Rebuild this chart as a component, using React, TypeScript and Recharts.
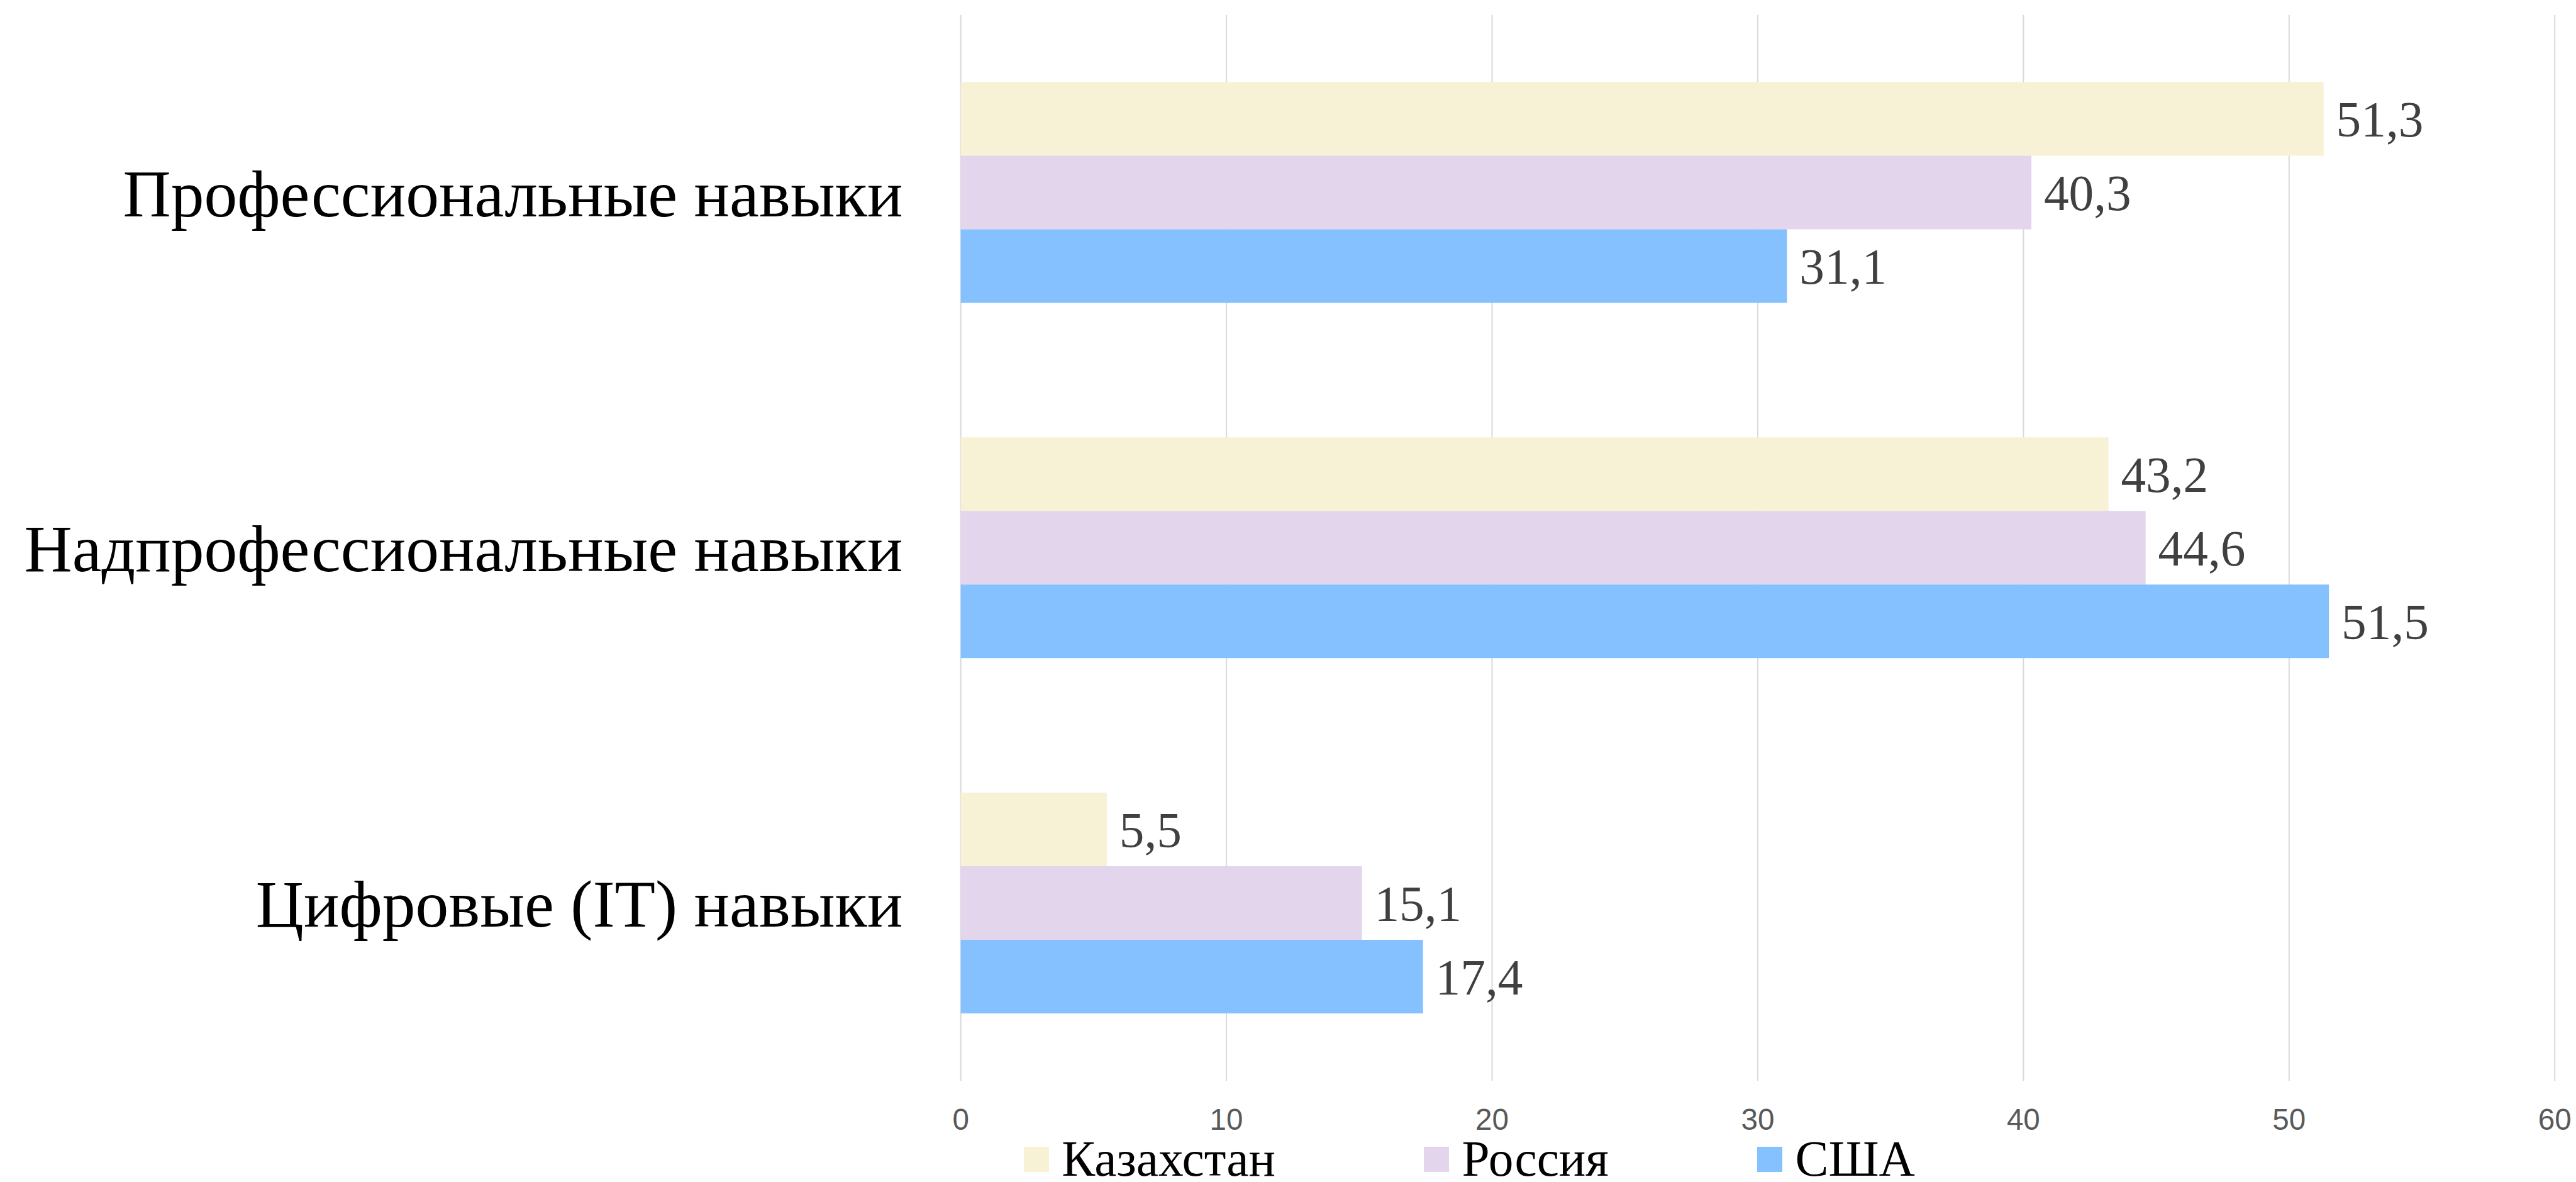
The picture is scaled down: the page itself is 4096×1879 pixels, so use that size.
import { Bar, BarChart, CartesianGrid, LabelList, Legend, XAxis, YAxis } from "recharts";

const S = 0.992;
const W = 4096;
const H = 1879;

const categories = ["Профессиональные навыки", "Надпрофессиональные навыки", "Цифровые (IT) навыки"];
const kazakhstan = [51.3, 43.2, 5.5];
const russia = [40.3, 44.6, 15.1];
const usa = [31.1, 51.5, 17.4];
const xTicks = [0, 10, 20, 30, 40, 50, 60];

const seriesNames = ["Казахстан", "Россия", "США"];
const seriesColors = ["#F7F1D5", "#E2D5EC", "#85C1FE"];

const data = categories.map((name, i) => ({
  name,
  kz: kazakhstan[i],
  ru: russia[i],
  us: usa[i],
}));

const SERIF = '"Liberation Serif", "Times New Roman", serif';
const SANS = '"Liberation Sans", Arial, sans-serif';

const fmt = (v: any) => Number(v).toFixed(1).replace(".", ",");

function LegendContent({ payload }: any) {
  return (
    <div style={{ display: "flex", alignItems: "center", height: 60 * S }}>
      {(payload || []).map((p: any, i: number) => (
        <div key={p.value} style={{ display: "flex", alignItems: "center", marginRight: i < 2 ? 238 * S : 0 }}>
          <span style={{ display: "inline-block", width: 40 * S, height: 40 * S, background: p.color, marginRight: 21 * S }} />
          <span style={{ fontFamily: SERIF, fontSize: 80 * S, lineHeight: `${60 * S}px`, color: "#000" }}>{p.value}</span>
        </div>
      ))}
    </div>
  );
}

export default function App() {
  const keys = ["kz", "ru", "us"];
  return (
    <div style={{ width: W, height: H, background: "#fff" }}>
      <style>{`body{margin:0;background:#fff}`}</style>
      <BarChart
        width={W}
        height={H}
        data={data}
        layout="vertical"
        barGap={0}
        barCategoryGap="18.9%"
        margin={{ top: 24 * S, right: W - 4095 * S, bottom: H - 1732 * S - 60, left: 0 }}
      >
        <CartesianGrid horizontal={false} stroke="#d9d9d9" strokeWidth={2} />
        <XAxis
          type="number"
          domain={[0, 60]}
          ticks={xTicks}
          interval={0}
          height={60}
          axisLine={false}
          tickLine={false}
          tickMargin={37.7}
          tick={{ fontFamily: SANS, fontSize: 48 * S, fill: "#595959" }}
        />
        <YAxis
          type="category"
          dataKey="name"
          width={1540 * S}
          interval={0}
          axisLine={false}
          tickLine={false}
          tickMargin={86.3}
          tick={{ fontFamily: SERIF, fontSize: 106.4 * S, fill: "#000" }}
        />
        <Legend
          layout="horizontal"
          verticalAlign="middle"
          align="center"
          wrapperStyle={{ top: 1828 * S, left: 1641 * S, width: "auto" }}
          content={<LegendContent />}
        />
        {keys.map((k, i) => (
          <Bar key={k} dataKey={k} name={seriesNames[i]} fill={seriesColors[i]} isAnimationActive={false}>
            <LabelList
              dataKey={k}
              position="right"
              offset={20 * S}
              formatter={fmt}
              style={{ fontFamily: SERIF, fontSize: 80 * S, fill: "#404040" }}
            />
          </Bar>
        ))}
      </BarChart>
    </div>
  );
}
